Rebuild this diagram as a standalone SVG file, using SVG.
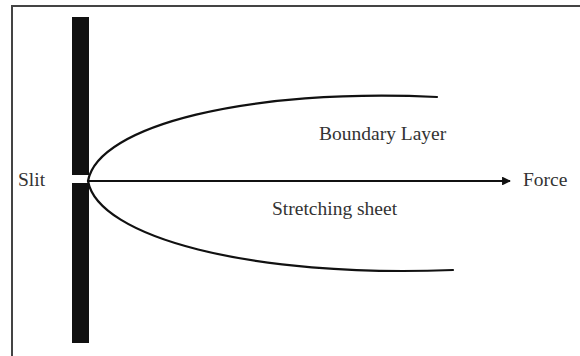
<svg xmlns="http://www.w3.org/2000/svg" width="580" height="356" viewBox="0 0 580 356">
  <style>
    .frame { stroke: #444; stroke-width: 2; fill: none; }
    .curve { stroke: #111; stroke-width: 2.2; fill: none; stroke-linecap: round; }
    .label { font-family: "Liberation Serif", "Times New Roman", serif; font-size: 19.5px; fill: #333; }
  </style>
  <defs>
    <marker id="arrow" viewBox="0 0 10 10" refX="9" refY="5" markerWidth="4" markerHeight="4" orient="auto" markerUnits="strokeWidth">
      <path d="M0,0 L10,5 L0,10 Z" fill="#111"/>
    </marker>
  </defs>

  <rect width="580" height="356" fill="#fff"/>

  <!-- frame (top and left edges) -->
  <path class="frame" d="M12,356 V6 H580"/>

  <!-- slotted wall -->
  <g id="wall">
    <rect x="72" y="17" width="17" height="158" fill="#111"/>
    <rect x="72" y="183" width="17" height="160" fill="#111"/>
  </g>

  <g id="connectors">
    <!-- stretching sheet pulled by the force -->
    <line x1="88" y1="181" x2="510" y2="181" stroke="#111" stroke-width="2.2" marker-end="url(#arrow)"/>
    <!-- boundary layer edges -->
    <path class="curve" d="M88,181 C98,125 250,88 437,97"/>
    <path class="curve" d="M88,181 C98,237 250,278 453,270"/>
  </g>

  <g id="labels">
    <text class="label" x="18" y="186">Slit</text>
    <text class="label" x="523" y="186">Force</text>
    <text class="label" x="319" y="140">Boundary Layer</text>
    <text class="label" x="272" y="215">Stretching sheet</text>
  </g>
</svg>
